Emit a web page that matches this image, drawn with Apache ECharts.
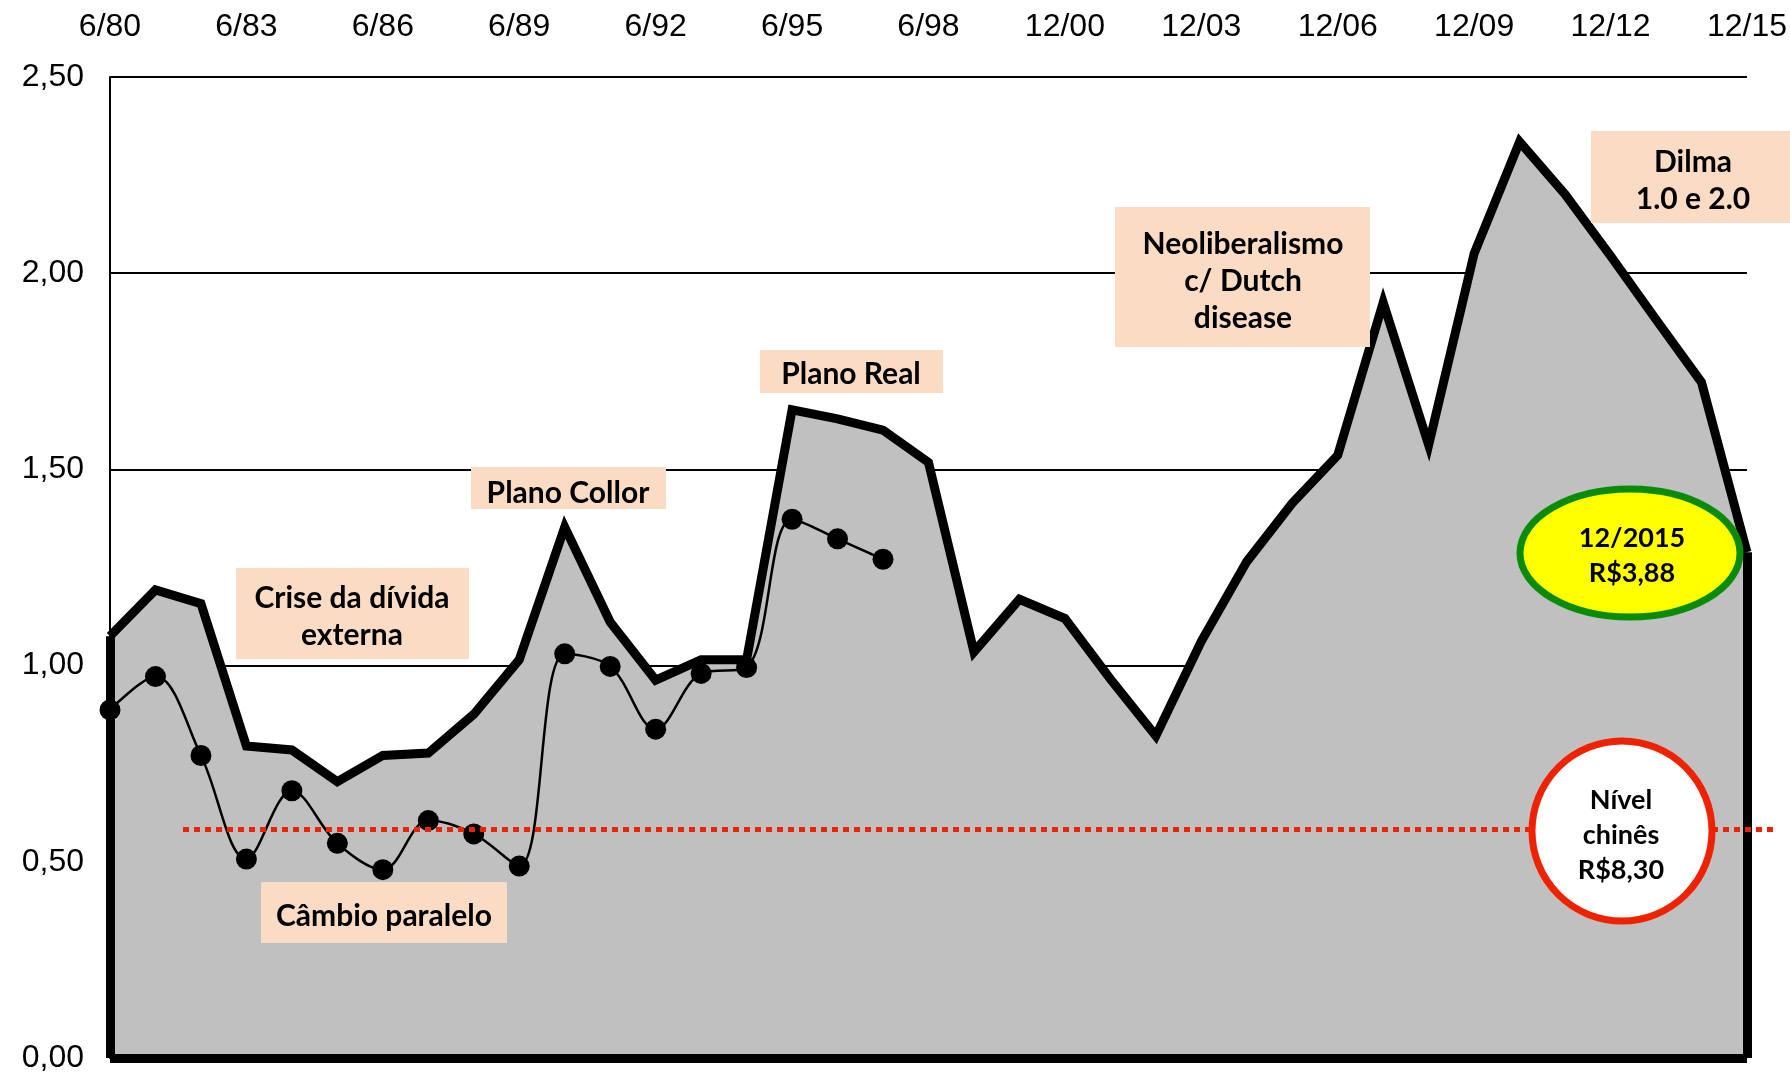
<!DOCTYPE html>
<html>
<head>
<meta charset="utf-8">
<style>
html,body{margin:0;padding:0;background:#fff;}
#chart{width:1790px;height:1074px;}
</style>
<script src="https://cdn.jsdelivr.net/npm/echarts@6/dist/echarts.min.js"></script>
</head>
<body>
<div id="chart"></div>
<script>
var categories = ['6/80','6/81','6/82','6/83','6/84','6/85','6/86','6/87','6/88','6/89','6/90','6/91','6/92','6/93','6/94','6/95','6/96','6/97','6/98','12/98','12/99','12/00','12/01','12/02','12/03','12/04','12/05','12/06','12/07','12/08','12/09','12/10','12/11','12/12','12/13','12/14','12/15'];
var cambioReal = [1.075,1.193,1.158,0.795,0.785,0.704,0.771,0.777,0.876,1.015,1.353,1.111,0.963,1.015,1.015,1.652,1.629,1.600,1.518,1.035,1.169,1.120,0.966,0.821,1.062,1.265,1.414,1.536,1.925,1.562,2.050,2.335,2.201,2.044,1.882,1.722,1.289];
var cambioParalelo = [0.887,0.972,0.771,0.507,0.681,0.547,0.480,0.605,0.571,0.489,1.030,0.998,0.838,0.980,0.995,1.373,1.323,1.271];
var nivelChines = 0.583;

var FONT = '"Liberation Sans", Arial, sans-serif';
var AFONT = 'Lato, "Open Sans", sans-serif';
var last = categories.length - 1;

function box(x, y, w, h, text, tx, ty, lh) {
  return [
    {type:'rect', z:100, shape:{x:x,y:y,width:w,height:h}, style:{fill:'#FADBC3'}},
    {type:'text', z:101, style:{text:text, x:tx, y:ty, align:'center', verticalAlign:'middle',
      font:'bold 30px ' + AFONT, lineHeight:lh || 37, fill:'#000'}}
  ];
}

var graphics = [].concat(
  box(236,568,233,91,'Crise da dívida\nexterna',352,617),
  box(261,882,246,61,'Câmbio paralelo',384,916),
  box(471,467,195,42,'Plano Collor',568,493),
  box(760,350,183,43,'Plano Real',851,374),
  box(1115,207,255,140,'Neoliberalismo\nc/ Dutch\ndisease',1243,281),
  box(1591,131,199,92,'Dilma\n1.0 e 2.0',1693,181),
  [
    {type:'ellipse', z:100, shape:{cx:1630,cy:553,rx:110,ry:64}, style:{fill:'#FFFF00', stroke:'#0A8C0A', lineWidth:7}},
    {type:'text', z:101, style:{text:'12/2015\nR$3,88', x:1632, y:556, align:'center', verticalAlign:'middle', font:'bold 27px ' + AFONT, lineHeight:35, fill:'#000'}},
    {type:'circle', z:100, shape:{cx:1622,cy:831,r:90}, style:{fill:'#FFFFFF', stroke:'#EE2200', lineWidth:7}},
    {type:'text', z:101, style:{text:'Nível\nchinês\nR$8,30', x:1621, y:835, align:'center', verticalAlign:'middle', font:'bold 27px ' + AFONT, lineHeight:35, fill:'#000'}}
  ]
);

var chart = echarts.init(document.getElementById('chart'), null, {renderer:'canvas'});
chart.setOption({
  animation:false,
  backgroundColor:'#fff',
  grid:{left:110, right:43, top:77, bottom:13, containLabel:false},
  xAxis:{
    type:'category', data:categories, boundaryGap:false, position:'top',
    axisLine:{show:false}, axisTick:{show:false},
    axisLabel:{interval:2, margin:34, color:'#000', fontFamily:FONT, fontSize:32},
    splitLine:{show:false}
  },
  yAxis:{
    type:'value', min:0, max:2.5, interval:0.5,
    axisLine:{show:true, lineStyle:{color:'#000', width:2}},
    axisTick:{show:false},
    axisLabel:{margin:26, color:'#000', fontFamily:FONT, fontSize:32,
      formatter:function(v){ return v.toFixed(2).replace('.', ','); }},
    splitLine:{show:true, lineStyle:{color:'#000', width:2}}
  },
  series:[
    {
      name:'Câmbio', type:'line', data:cambioReal, symbol:'none', z:2,
      lineStyle:{color:'#000', width:9, join:'miter', miterLimit:10},
      areaStyle:{color:'#C0C0C0', opacity:1},
      markLine:{
        silent:true, symbol:['none','none'], animation:false,
        label:{show:false},
        data:[
          [{coord:[categories[0],0], lineStyle:{color:'#000', width:9, type:'solid'}},{coord:[categories[0],cambioReal[0]]}],
          [{coord:[categories[0],0], lineStyle:{color:'#000', width:9, type:'solid'}},{coord:[categories[last],0]}],
          [{coord:[categories[last],0], lineStyle:{color:'#000', width:9, type:'solid'}},{coord:[categories[last],cambioReal[last]]}],
          [{x:183, yAxis:nivelChines, lineStyle:{color:'#EE2200', width:5, type:[6,5]}},{x:1773, yAxis:nivelChines}]
        ]
      }
    },
    {
      name:'Câmbio paralelo', type:'line', data:cambioParalelo, smooth:0.35, z:3,
      symbol:'circle', symbolSize:21, showAllSymbol:true,
      itemStyle:{color:'#000'},
      lineStyle:{color:'#000', width:2.5}
    }
  ],
  graphic:graphics
});
</script>
</body>
</html>
